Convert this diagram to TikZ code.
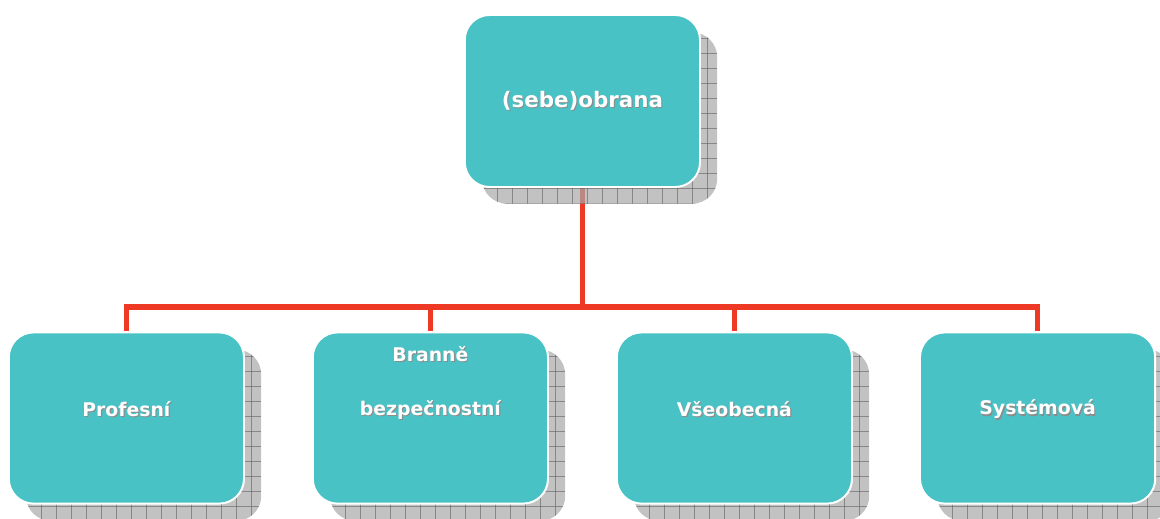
\documentclass[tikz,border=0pt]{standalone}
\usepackage{fontspec}
\setmainfont{DejaVu Sans}
\usetikzlibrary{positioning}
\pgfdeclarelayer{background}
\pgfsetlayers{background,main}
\definecolor{boxteal}{HTML}{48C2C5}
\definecolor{linkred}{HTML}{EE3A24}
\definecolor{shadowgray}{HTML}{A8A8A8}
\definecolor{gridgray}{HTML}{606060}
\newcommand{\shadowtext}[1]{\makebox[0pt][l]{\hspace{0.8pt}\raisebox{-0.8pt}{\textcolor{gray!90}{#1}}}#1}
\tikzset{
    card/.style={shape=rectangle,rounded corners=0.62cm,minimum width=5.88cm,minimum height=4.28cm,fill=boxteal,draw=white,line width=1.4pt},
    cardshadow/.style={card,draw=none,fill=shadowgray,fill opacity=0.7,
        path picture={
            \foreach \g in {0,0.375,...,6.4}{
                \draw[gridgray,line width=0.35pt,draw opacity=0.6] ([xshift=\g cm]path picture bounding box.south west) -- ([xshift=\g cm]path picture bounding box.north west);
            }
            \foreach \g in {0,0.375,...,4.6}{
                \draw[gridgray,line width=0.35pt,draw opacity=0.6] ([yshift=\g cm]path picture bounding box.south west) -- ([yshift=\g cm]path picture bounding box.south east);
            }
        }},
    cardtext/.style={text=white,font=\bfseries\fontsize{13.4}{16}\selectfont},
    link/.style={draw=linkred,line width=3.6pt}
}

\begin{document}
\begin{tikzpicture}
\useasboundingbox (0,0) rectangle (29,-12.95);
% shadows
\node[cardshadow] (s0) at (14.99,-2.95) {};
\node[cardshadow] (s1) at (3.59,-10.88) {};
\node[cardshadow] (s2) at (11.19,-10.88) {};
\node[cardshadow] (s3) at (18.79,-10.88) {};
\node[cardshadow] (s4) at (26.37,-10.88) {};
% boxes
\node[card,minimum height=4.3cm] (top) at (14.56,-2.525) {};
\node[card] (b1) at (3.16,-10.45) {};
\node[card] (b2) at (10.76,-10.45) {};
\node[card] (b3) at (18.36,-10.45) {};
\node[card] (b4) at (25.94,-10.45) {};
% texts
\node[cardtext,font=\bfseries\fontsize{15.2}{18}\selectfont] (t0) at (top.center) {\shadowtext{(sebe)obrana}};
\node[cardtext] (t1) at ([yshift=0.2cm]b1.center) {\shadowtext{Profesní}};
\node[cardtext] (t2a) at ([yshift=1.575cm]b2.center) {\shadowtext{Branně}};
\node[cardtext] (t2b) at ([yshift=0.2cm]b2.center) {\shadowtext{bezpečnostní}};
\node[cardtext] (t3) at ([yshift=0.2cm]b3.center) {\shadowtext{Všeobecná}};
\node[cardtext] (t4) at ([yshift=0.2cm]b4.center) {\shadowtext{Systémová}};
% connectors
\coordinate (hub) at ([yshift=-2.975cm]top.south);
\begin{pgfonlayer}{background}
\path[link] (top.south) -- (hub);
\path[link] (b1.north) |- (b4.north |- hub) -- (b4.north);
\path[link] (b2.north) -- (b2.north |- hub);
\path[link] (b3.north) -- (b3.north |- hub);
\end{pgfonlayer}
\end{tikzpicture}
\end{document}
